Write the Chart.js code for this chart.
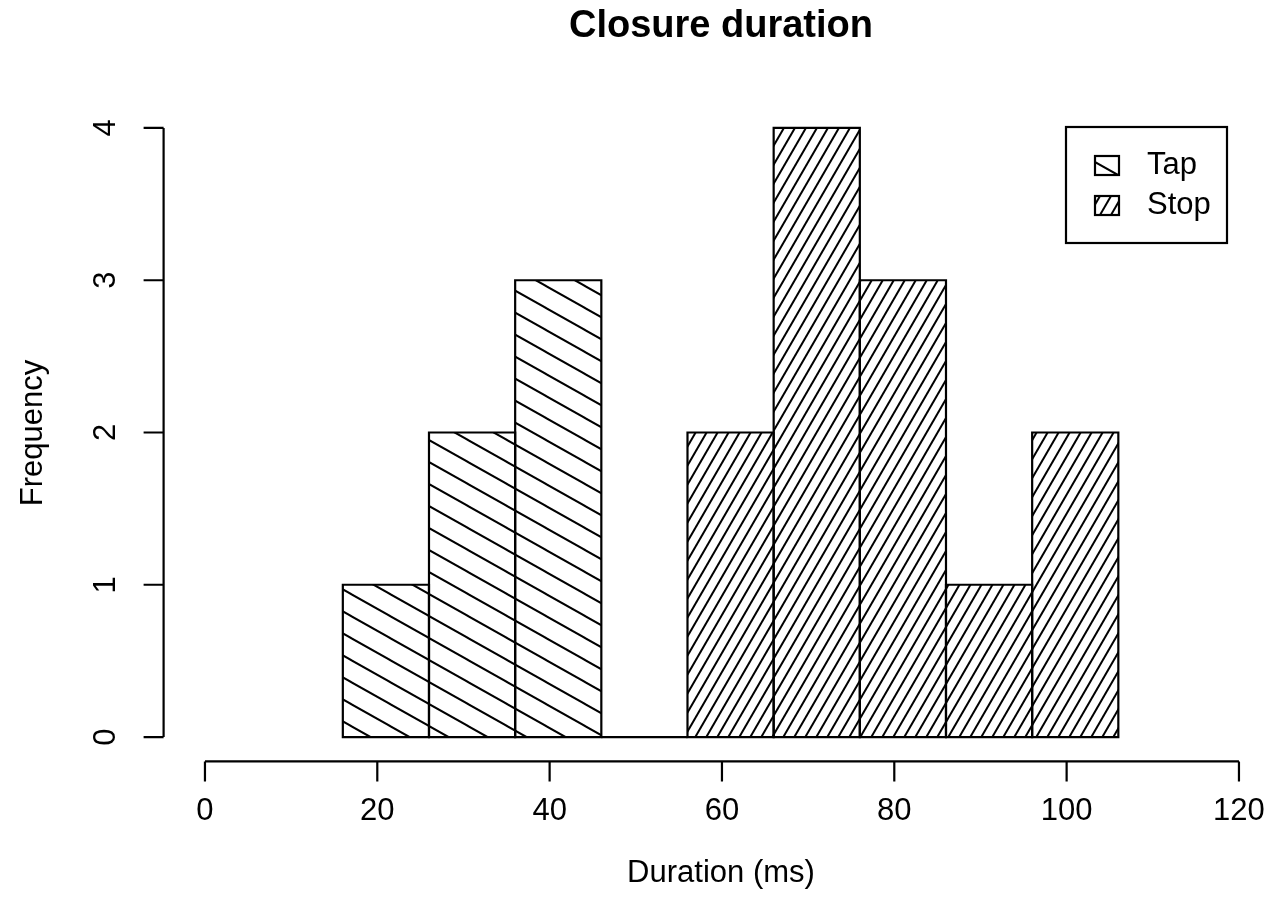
<!DOCTYPE html>
<html>
<head>
<meta charset="utf-8">
<title>Closure duration</title>
<script src="https://cdn.jsdelivr.net/npm/chart.js@4/dist/chart.umd.min.js"></script>
<style>
  html, body { margin: 0; padding: 0; background: #fff; }
  canvas { display: block; }
</style>
</head>
<body>
<canvas id="histChart" width="1271" height="917"></canvas>
<script>
// histogram bins (left edges, ms) and counts
const binWidth = 10;
const tapBins = [16, 26, 36];
const tapCounts = [1, 2, 3];
const stopBins = [46, 56, 66, 76, 86, 96];
const stopCounts = [0, 2, 4, 3, 1, 2];

const xTicks = [0, 20, 40, 60, 80, 100, 120];
const yTicks = [0, 1, 2, 3, 4];
const seriesNames = ['Tap', 'Stop'];

const FONT = '"Liberation Sans", Arial, Helvetica, sans-serif';

function hatch(w, h, dir) {
	const c = document.createElement('canvas');
	c.width = w;
	c.height = h;
	const g = c.getContext('2d');
	g.strokeStyle = '#000';
	g.lineWidth = 2;
	for (let k = -1; k <= 1; k++) {
		g.beginPath();
		if (dir > 0) {
			g.moveTo(k * w - w, -h);
			g.lineTo(k * w + 2 * w, 2 * h);
		} else {
			g.moveTo(k * w - w, 2 * h);
			g.lineTo(k * w + 2 * w, -h);
		}
		g.stroke();
	}
	return g.createPattern(c, 'repeat');
}

const tapPattern = hatch(39, 22, 1);
const stopPattern = hatch(11, 19, -1);

function toPoints(bins, counts) {
	return bins.map((b, i) => ({ x: b + binWidth / 2, y: counts[i] }));
}

// R style: outlined bars, detached axes, title, labels, legend
const rStyle = {
	id: 'rStyle',
	afterDatasetsDraw(chart) {
		const ctx = chart.ctx;
		ctx.save();
		ctx.strokeStyle = '#000';
		ctx.lineWidth = 2.2;
		chart.data.datasets.forEach((ds, i) => {
			chart.getDatasetMeta(i).data.forEach(bar => {
				const p = bar.getProps(['x', 'y', 'base', 'width'], true);
				const l = p.x - p.width / 2, r = p.x + p.width / 2;
				ctx.beginPath();
				if (Math.abs(p.base - p.y) < 0.5) {
					ctx.moveTo(l, p.base);
					ctx.lineTo(r, p.base);
				} else {
					ctx.rect(l, p.y, p.width, p.base - p.y);
				}
				ctx.stroke();
			});
		});
		ctx.restore();
	},
	afterDraw(chart) {
		const ctx = chart.ctx;
		const xs = chart.scales.x, ys = chart.scales.y;
		const area = chart.chartArea;
		ctx.save();
		ctx.strokeStyle = '#000';
		ctx.fillStyle = '#000';
		ctx.lineWidth = 2.2;

		// y axis
		const ax = area.left;
		ctx.beginPath();
		ctx.moveTo(ax, ys.getPixelForValue(yTicks[0]));
		ctx.lineTo(ax, ys.getPixelForValue(yTicks[yTicks.length - 1]));
		yTicks.forEach(v => {
			const py = ys.getPixelForValue(v);
			ctx.moveTo(ax, py);
			ctx.lineTo(ax - 20, py);
		});
		ctx.stroke();
		ctx.font = '31px ' + FONT;
		ctx.textAlign = 'center';
		ctx.textBaseline = 'middle';
		yTicks.forEach(v => {
			ctx.save();
			ctx.translate(106, ys.getPixelForValue(v));
			ctx.rotate(-Math.PI / 2);
			ctx.fillText(String(v), 0, 0);
			ctx.restore();
		});

		// x axis
		const ay = area.bottom;
		ctx.beginPath();
		ctx.moveTo(xs.getPixelForValue(xTicks[0]), ay);
		ctx.lineTo(xs.getPixelForValue(xTicks[xTicks.length - 1]), ay);
		xTicks.forEach(v => {
			const px = xs.getPixelForValue(v);
			ctx.moveTo(px, ay);
			ctx.lineTo(px, ay + 20);
		});
		ctx.stroke();
		xTicks.forEach(v => {
			ctx.fillText(String(v), xs.getPixelForValue(v), 811);
		});

		// axis titles
		const cx = 721;
		ctx.fillText('Duration (ms)', cx, 873);
		ctx.save();
		ctx.translate(33, 433);
		ctx.rotate(-Math.PI / 2);
		ctx.fillText('Frequency', 0, 0);
		ctx.restore();

		// main title
		ctx.font = 'bold 38px ' + FONT;
		ctx.fillText('Closure duration', cx, 27);

		// legend
		ctx.strokeRect(1066, 127, 161, 116);
		const pats = [tapPattern, stopPattern];
		const origins = [[1095, 162], [1100, 196]];
		ctx.font = '31px ' + FONT;
		ctx.textAlign = 'left';
		seriesNames.forEach((name, i) => {
			const sy = 156 + i * 40;
			ctx.save();
			ctx.translate(origins[i][0], origins[i][1]);
			ctx.fillStyle = pats[i];
			ctx.fillRect(1095 - origins[i][0], sy - origins[i][1], 24, 19);
			ctx.restore();
			ctx.strokeRect(1095, sy, 24, 19);
			ctx.fillText(name, 1147, sy + 9);
		});
		ctx.restore();
	}
};

const xMin = -4.8;
const pxPerUnit = (1238.5 - 204.5) / 120;
const xMax = xMin + (1271 - 163.6) / pxPerUnit;

const histChart = new Chart(document.getElementById('histChart'), {
	type: 'bar',
	data: {
		datasets: [{
			label: seriesNames[0],
			data: toPoints(tapBins, tapCounts),
			backgroundColor: tapPattern,
			borderWidth: 0,
			inflateAmount: 0,
			grouped: false,
			barPercentage: 1,
			categoryPercentage: 1
		}, {
			label: seriesNames[1],
			data: toPoints(stopBins, stopCounts),
			backgroundColor: stopPattern,
			borderWidth: 0,
			inflateAmount: 0,
			grouped: false,
			barPercentage: 1,
			categoryPercentage: 1
		}]
	},
	options: {
		responsive: false,
		animation: false,
		layout: {
			padding: { left: 163.6, right: 0, top: 103.6, bottom: 155.6 }
		},
		plugins: {
			legend: { display: false },
			title: { display: false },
			tooltip: { enabled: false }
		},
		scales: {
			x: {
				type: 'linear',
				display: false,
				offset: false,
				min: xMin,
				max: xMax,
				afterBuildTicks: s => { s.ticks = xTicks.map(v => ({ value: v })); }
			},
			y: {
				display: false,
				min: -0.16,
				max: 4.16,
				afterBuildTicks: s => { s.ticks = yTicks.map(v => ({ value: v })); }
			}
		}
	},
	plugins: [rStyle]
});
</script>
</body>
</html>
